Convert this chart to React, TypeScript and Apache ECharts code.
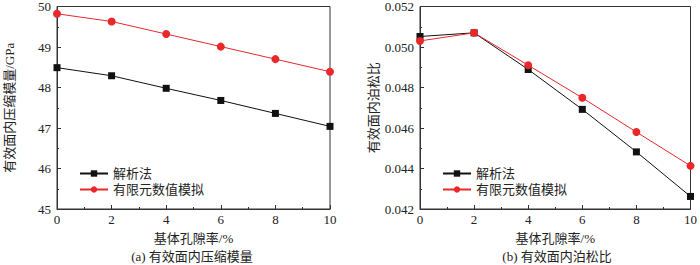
import React, { useEffect, useRef } from "react";
import * as echarts from "echarts";

const porosity = [0, 2, 4, 6, 8, 10];
const modulusAnalytic = [48.49, 48.29, 47.98, 47.68, 47.36, 47.04];
const modulusFEM = [49.82, 49.63, 49.32, 49.01, 48.7, 48.39];
const poissonAnalytic = [0.05052, 0.0507, 0.04889, 0.04692, 0.04482, 0.04262];
const poissonFEM = [0.0503, 0.0507, 0.0491, 0.04749, 0.0458, 0.04413];

const seriesNames = ["解析法", "有限元数值模拟"];
const xName = "基体孔隙率/%";
const yNameA = "有效面内压缩模量/GPa";
const yNameB = "有效面内泊松比";
const captionA = "(a) 有效面内压缩模量";
const captionB = "(b) 有效面内泊松比";

const FONT = "'Liberation Serif', 'Noto Sans CJK SC', serif";
const BLACK = "#111";
const RED = "#e8282b";

export default function App() {
  const ref = useRef<HTMLDivElement>(null);
  useEffect(() => {
    if (!ref.current) return;
    const chart = echarts.init(ref.current, null, { renderer: "svg" });
    const textStyle = { fontFamily: FONT, color: "#222", fontSize: 13 };
    const xAxisBase = (gridIndex: number) => ({
      type: "value",
      gridIndex,
      min: 0,
      max: 10,
      interval: 2,
      name: xName,
      nameLocation: "middle",
      nameGap: 23,
      nameTextStyle: { ...textStyle },
      axisLine: { lineStyle: { color: "#333", width: 1 } },
      axisTick: { inside: true, length: 4, lineStyle: { color: "#333" } },
      minorTick: { show: true, splitNumber: 2, length: 2, lineStyle: { color: "#333" } },
      axisLabel: { ...textStyle, margin: 4 },
      splitLine: { show: false },
    });
    const mk = (d: number[]) => porosity.map((x, i) => [x, d[i]]);
    const lineSeries = (name: string, data: number[], idx: number, black: boolean) => ({
      type: "line",
      name,
      xAxisIndex: idx,
      yAxisIndex: idx,
      data: mk(data),
      symbol: black ? "rect" : "circle",
      symbolSize: black ? 7 : 8,
      showSymbol: true,
      itemStyle: { color: black ? BLACK : RED },
      lineStyle: { color: black ? BLACK : RED, width: 1 },
      z: black ? 2 : 3,
    });
    const legendBase = (left: number) => ({
      orient: "vertical",
      left,
      top: 162,
      itemWidth: 28,
      itemHeight: 8,
      itemGap: 3,
      textStyle: { ...textStyle, fontSize: 13 },
      data: seriesNames,
      selectedMode: false,
    });
    chart.setOption({
      animation: false,
      textStyle,
      grid: [
        { left: 57, right: 370, top: 6, height: 203, show: true, borderColor: "#333", borderWidth: 1, backgroundColor: "transparent" },
        { left: 420, right: 6, top: 6, height: 203, show: true, borderColor: "#333", borderWidth: 1, backgroundColor: "transparent" },
      ],
      xAxis: [xAxisBase(0), xAxisBase(1)],
      yAxis: [
        {
          type: "value",
          gridIndex: 0,
          min: 45,
          max: 50,
          interval: 1,
          name: yNameA,
          nameLocation: "middle",
          nameGap: 41,
          nameTextStyle: { ...textStyle },
          axisLine: { lineStyle: { color: "#333" } },
          axisTick: { inside: true, length: 4, lineStyle: { color: "#333" } },
          minorTick: { show: true, splitNumber: 2, length: 2, lineStyle: { color: "#333" } },
          axisLabel: { ...textStyle, margin: 6 },
          splitLine: { show: false },
        },
        {
          type: "value",
          gridIndex: 1,
          min: 0.042,
          max: 0.052,
          interval: 0.002,
          name: yNameB,
          nameLocation: "middle",
          nameGap: 40,
          nameTextStyle: { ...textStyle },
          axisLine: { lineStyle: { color: "#333" } },
          axisTick: { inside: true, length: 4, lineStyle: { color: "#333" } },
          minorTick: { show: true, splitNumber: 2, length: 2, lineStyle: { color: "#333" } },
          axisLabel: { ...textStyle, margin: 6, formatter: (v: number) => v.toFixed(3) },
          splitLine: { show: false },
        },
      ],
      legend: [legendBase(74), legendBase(437)],
      graphic: [
        { type: "text", x: 192, y: 256, style: { text: captionA, font: `13px ${FONT}`, fill: "#222", textAlign: "center", textVerticalAlign: "middle" } },
        { type: "text", x: 557, y: 256, style: { text: captionB, font: `13px ${FONT}`, fill: "#222", textAlign: "center", textVerticalAlign: "middle" } },
      ],
      series: [
        lineSeries(seriesNames[0], modulusAnalytic, 0, true),
        lineSeries(seriesNames[1], modulusFEM, 0, false),
        lineSeries(seriesNames[0], poissonAnalytic, 1, true),
        lineSeries(seriesNames[1], poissonFEM, 1, false),
      ],
    });
    return () => chart.dispose();
  }, []);
  return <div ref={ref} style={{ width: 700, height: 265, position: "absolute", left: 0, top: 0, background: "#fff" }} />;
}
